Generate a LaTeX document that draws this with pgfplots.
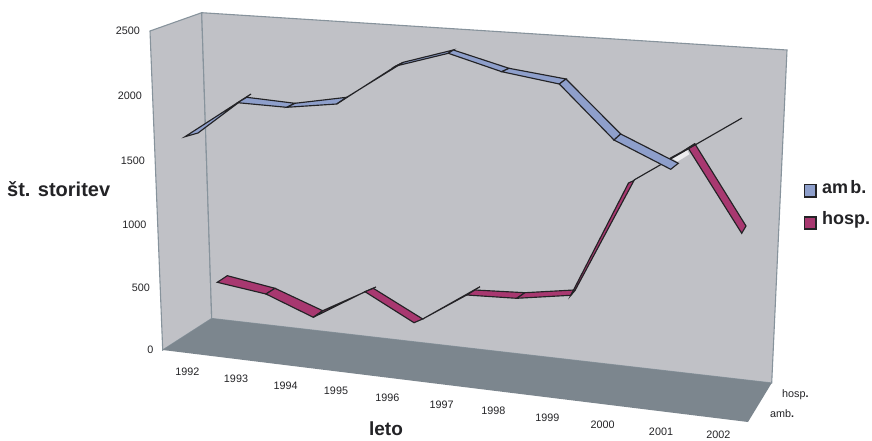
\documentclass[border=0pt]{standalone}
\usepackage{pgfplots}
\pgfplotsset{compat=1.18}
\usepackage{fontspec}
\setmainfont{Liberation Sans}
\definecolor{wallc}{HTML}{C0C1C6}
\definecolor{floorc}{HTML}{7C868E}
\definecolor{edgec}{HTML}{87939C}
\definecolor{ambc}{HTML}{8E9FCB}
\definecolor{hospc}{HTML}{A83870}
\definecolor{inkc}{HTML}{232326}
\newcommand{\fs}[1]{\fontsize{#1bp}{#1bp}\selectfont}
\pgfplotsset{
  rib/.style={line width=1.15pt,draw=inkc,line join=miter,no marks},
  amb/.style={rib,fill=ambc},
  hosp/.style={rib,fill=hospc},
  wall/.style={fill=wallc,draw=edgec,line width=1.1pt,no marks},
}
\begin{document}
\begin{tikzpicture}[every node/.style={inner sep=0pt,text=inkc}]
\begin{axis}[
  scale only axis,width=872bp,height=441bp,
  xmin=0,xmax=872,ymin=0,ymax=441,y dir=reverse,
  hide axis,clip=false,
]
% walls and floor of the chart box
\addplot[wall] coordinates {(150,31)(201.7,12.7)(211.7,318.5)(162.7,350)} --cycle;
\addplot[wall] coordinates {(201.7,12.7)(787,50)(771.7,383)(211.7,318.5)} --cycle;
\addplot[fill=floorc,draw=none,no marks] coordinates {(162.7,350)(211.7,318.5)(771.7,383)(748,422)} --cycle;

% hosp. ribbon, 1992 to 2002
\addplot[hosp] coordinates {(217.3,282.3)(227.3,275.7)(275,288.3)(266,294)} --cycle;
\addplot[hosp] coordinates {(266,294)(275,288.3)(322.7,310.7)(313.3,317.3)} --cycle;
\addplot[hosp] coordinates {(313.3,317.3)(322.7,310.7)(376,287)(365,291.7)} --cycle;
\addplot[hosp] coordinates {(365,291.7)(373.3,288.3)(422.7,319)(414,322.7)} --cycle;
\addplot[hosp] coordinates {(422.7,319)(466.7,295)(480,286.7)(468,293.5)} --cycle;
\addplot[hosp] coordinates {(466.7,295)(475,290)(525,292.7)(516.7,298.3)} --cycle;
\addplot[hosp] coordinates {(516.7,298.3)(525,292.7)(574,290)(570.7,295.3)} --cycle;
\addplot[hosp] coordinates {(570.7,295.5)(575,290.5)(634,180.5)(628.5,183)} --cycle;
\addplot[fill=white!70!wallc,draw=none,no marks] coordinates {(671.7,157.7)(686.7,149.3)(689.3,154.3)(677.3,161.7)} --cycle;
\addplot[hosp] coordinates {(670,158.3)(688.3,148.3)(695,143.5)(680,153)} --cycle;
\addplot[hosp] coordinates {(688.3,148.3)(695,144)(746,226)(741.7,233.3)} --cycle;
\addplot[rib] coordinates {(634,180)(742,118)};

% amb. ribbon, 1992 to 2001
\addplot[amb] coordinates {(185,136.7)(198,133)(238,103)(251,94)} --cycle;
\addplot[amb] coordinates {(237.7,102.7)(246.7,97.3)(295,103.3)(286.7,107.3)} --cycle;
\addplot[amb] coordinates {(286.7,107.3)(295,103.3)(346.7,97.3)(336.7,104)} --cycle;
\addplot[amb] coordinates {(336.7,104)(346.7,97.3)(403.3,62.3)(396,66)} --cycle;
\addplot[amb] coordinates {(396,66)(403.3,62.3)(453.3,50)(448.3,53.3)} --cycle;
\addplot[amb] coordinates {(448.3,53.3)(453.3,50)(509,68.3)(501.7,71.7)} --cycle;
\addplot[amb] coordinates {(501.7,71.7)(509,68.3)(566,79)(559.3,84)} --cycle;
\addplot[amb] coordinates {(559.3,84)(566,79)(620.7,134)(614,140)} --cycle;
\addplot[amb] coordinates {(614,140)(620.7,134)(678.3,163.3)(670.7,169.3)} --cycle;

% legend swatches
\addplot[amb] coordinates {(804.5,184.5)(816,184.5)(816,197)(804.5,197)} --cycle;
\addplot[hosp] coordinates {(804.5,217)(816,217)(816,229)(804.5,229)} --cycle;

% value axis
\node[anchor=east,font=\fs{10.8}] at (axis cs:140,31) {2500};
\node[anchor=east,font=\fs{10.8}] at (axis cs:142,95.5) {2000};
\node[anchor=east,font=\fs{10.8}] at (axis cs:145,160.5) {1500};
\node[anchor=east,font=\fs{10.8}] at (axis cs:146.5,225) {1000};
\node[anchor=east,font=\fs{10.8}] at (axis cs:150,287.5) {500};
\node[anchor=east,font=\fs{10.8}] at (axis cs:153.5,350) {0};

% year axis
\node[font=\fs{10.8}] at (axis cs:187.3,371.7) {1992};
\node[font=\fs{10.8}] at (axis cs:236,379) {1993};
\node[font=\fs{10.8}] at (axis cs:285.7,386) {1994};
\node[font=\fs{10.8}] at (axis cs:336,390.3) {1995};
\node[font=\fs{10.8}] at (axis cs:387.3,397.3) {1996};
\node[font=\fs{10.8}] at (axis cs:441.7,404.3) {1997};
\node[font=\fs{10.8}] at (axis cs:493.3,410.3) {1998};
\node[font=\fs{10.8}] at (axis cs:547.3,417.3) {1999};
\node[font=\fs{10.8}] at (axis cs:602.7,424.3) {2000};
\node[font=\fs{10.8}] at (axis cs:661,432) {2001};
\node[font=\fs{10.8}] at (axis cs:718.3,434.8) {2002};

% depth axis
\node[anchor=west,font=\fs{10.8}] at (axis cs:782,395) {hosp\textbf{.}};
\node[anchor=west,font=\fs{10.8}] at (axis cs:770,414) {amb\textbf{.}};

% axis titles and legend text
\node[anchor=west,font=\fs{20}\bfseries] at (axis cs:7,189) {št. storitev};
\node[font=\fs{19}\bfseries] at (axis cs:386,429) {leto};
\node[anchor=west,font=\fs{18}\bfseries] at (axis cs:822,187.5) {\spaceskip=2.2bp am b.};
\node[anchor=west,font=\fs{18}\bfseries] at (axis cs:822,219.5) {hosp.};
\end{axis}
% the page is exactly the plot frame
\pgfresetboundingbox
\path[use as bounding box] (0,0) rectangle (872bp,441bp);
\end{tikzpicture}
\end{document}
